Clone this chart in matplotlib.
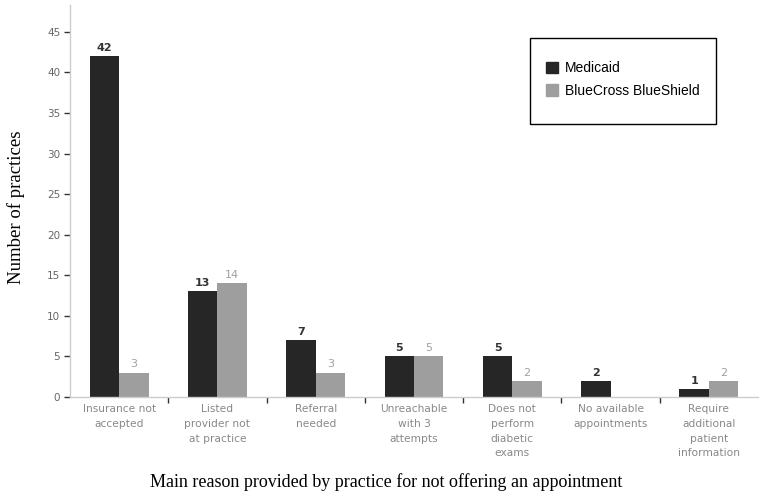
import matplotlib
matplotlib.use("Agg")
import matplotlib.pyplot as plt
from matplotlib.patches import Rectangle, Patch
import numpy as np

categories = ["Insurance not\naccepted", "Listed\nprovider not\nat practice", "Referral\nneeded",
              "Unreachable\nwith 3\nattempts", "Does not\nperform\ndiabetic\nexams",
              "No available\nappointments", "Require\nadditional\npatient\ninformation"]
medicaid = [42, 13, 7, 5, 5, 2, 1]
bcbs = [3, 14, 3, 5, 2, 0, 2]
series_names = ["Medicaid", "BlueCross BlueShield"]
yticks = [0, 5, 10, 15, 20, 25, 30, 35, 40, 45]

W, H = 762, 497
fig = plt.figure(figsize=(W / 100, H / 100), dpi=100)
ax = fig.add_axes([70 / W, (H - 397) / H, 688 / W, (397 - 5) / H])

x = np.arange(len(categories))
bw = 0.3
c_med = "#262626"
c_bc = "#9e9e9e"
ax.bar(x - bw / 2, medicaid, bw, color=c_med, label=series_names[0])
ax.bar(x + bw / 2, bcbs, bw, color=c_bc, label=series_names[1])

for xi, v in zip(x, medicaid):
    if v > 0:
        ax.text(xi - bw / 2, v + 0.4, str(v), ha="center", va="bottom", fontsize=8,
                color="#333333", fontweight="bold", family="DejaVu Sans")
for xi, v in zip(x, bcbs):
    if v > 0:
        ax.text(xi + bw / 2, v + 0.4, str(v), ha="center", va="bottom", fontsize=8,
                color="#a0a0a0", family="DejaVu Sans")

ax.set_xlim(-0.5, len(categories) - 0.5)
ax.set_ylim(0, 48.3)
ax.set_yticks(yticks)
ax.tick_params(axis="y", labelsize=7.5, labelcolor="#666666", color="#333333",
               length=4, width=1, pad=3)
ax.set_xticks(x)
ax.set_xticklabels(categories, fontsize=7.7, color="#888888", linespacing=1.6)
ax.tick_params(axis="x", length=0, pad=5)
ax.set_xticks(np.arange(len(categories) - 1) + 0.5, minor=True)
ax.tick_params(axis="x", which="minor", length=4, width=1, color="#333333")

for s in ["top", "right"]:
    ax.spines[s].set_visible(False)
for s in ["left", "bottom"]:
    ax.spines[s].set_color("#cccccc")
    ax.spines[s].set_linewidth(1)

ax.set_ylabel("Number of practices", family="Liberation Serif", fontsize=13.5, labelpad=14)
ax.yaxis.set_label_coords(-0.066, 0.485)
fig.text(386 / W, 1 - 482 / H, "Main reason provided by practice for not offering an appointment",
         family="Liberation Serif", fontsize=13, ha="center", va="center")

# legend box
fig.patches.append(Rectangle((530 / W, 1 - 124 / H), 186 / W, 86 / H, transform=fig.transFigure,
                             fill=True, facecolor="white", edgecolor="black", linewidth=1, zorder=5))
handles = [Patch(color=c_med), Patch(color=c_bc)]
leg = fig.legend(handles, series_names, loc="upper left",
                 bbox_to_anchor=(533 / W, 1 - 49 / H), frameon=False,
                 prop={"family": "Liberation Sans", "size": 10},
                 handlelength=0.9, handleheight=0.9, handletextpad=0.5, labelspacing=0.6)
leg.set_zorder(6)

fig.savefig("out.png", dpi=100)
